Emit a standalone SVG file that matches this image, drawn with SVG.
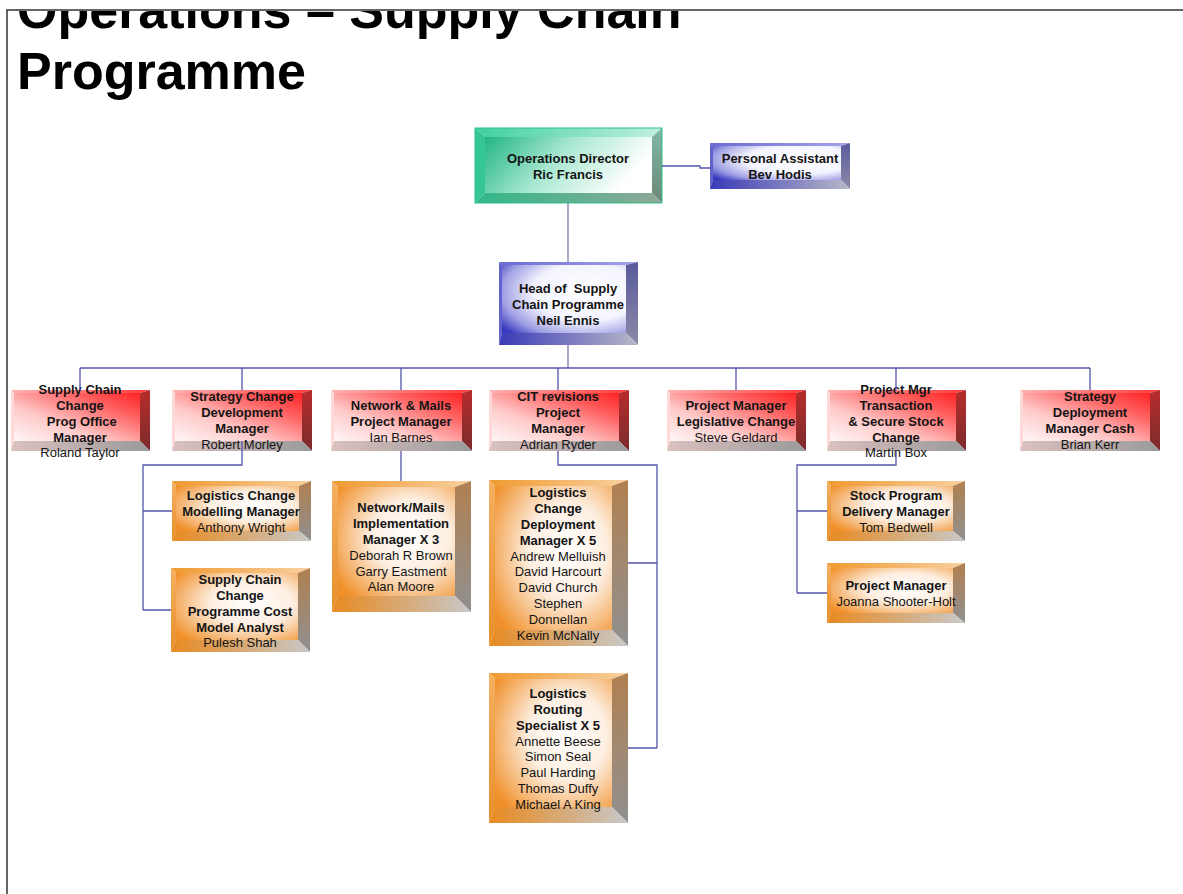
<svg xmlns="http://www.w3.org/2000/svg" width="1183" height="894" viewBox="0 0 1183 894">
<defs>
<style>
text{font-family:"Liberation Sans",Arial,sans-serif;font-size:13px;fill:#141414;text-anchor:middle}
.b{font-weight:bold}
.title{font-size:52px;font-weight:bold;fill:#000;text-anchor:start}
.conn{fill:none;stroke:#5555ac;stroke-width:1.3}
.rT{fill:url(#redTop)}.rL{fill:#ffd8d8}.rR{fill:url(#redRight)}.rB{fill:url(#redBottom)}.rF{fill:url(#redFace)}
.oT{fill:url(#orTop)}.oL{fill:url(#orLeft)}.oR{fill:url(#orRight)}.oB{fill:url(#orBottom)}.oF{fill:url(#orFace)}
.bT{fill:url(#blTop)}.bL{fill:#6262cc}.bR{fill:url(#blRight)}.bB{fill:url(#blBottom)}.bF{fill:url(#blFace)}
.gT{fill:url(#grTop)}.gL{fill:#34c696}.gR{fill:url(#grRight)}.gB{fill:url(#grBottom)}.gF{fill:url(#grFace)}
</style>
<clipPath id="pageClip"><rect x="8" y="11" width="1175" height="883"/></clipPath>
<linearGradient id="redFace" x1="0" y1="1" x2="1" y2="0"><stop offset="0" stop-color="#fff6f6"/><stop offset="0.35" stop-color="#ffcaca"/><stop offset="0.75" stop-color="#ff5c5c"/><stop offset="1" stop-color="#ff2424"/></linearGradient>
<linearGradient id="redTop" x1="0" y1="0" x2="1" y2="0"><stop offset="0" stop-color="#ffb4b4"/><stop offset="1" stop-color="#ff3a3a"/></linearGradient>
<linearGradient id="redRight" x1="0" y1="0" x2="0" y2="1"><stop offset="0" stop-color="#b82c2c"/><stop offset="1" stop-color="#7a2c2c"/></linearGradient>
<linearGradient id="redBottom" x1="0" y1="0" x2="1" y2="0"><stop offset="0" stop-color="#dcc0c0"/><stop offset="1" stop-color="#9a9a9a"/></linearGradient>
<radialGradient id="orFace" cx="0.62" cy="0.45" r="0.75"><stop offset="0" stop-color="#ffffff"/><stop offset="0.45" stop-color="#fdeee0"/><stop offset="1" stop-color="#f0902a"/></radialGradient>
<linearGradient id="orTop" x1="0" y1="0" x2="1" y2="0"><stop offset="0" stop-color="#f09a30"/><stop offset="1" stop-color="#f8d0a0"/></linearGradient>
<linearGradient id="orLeft" x1="0" y1="0" x2="0" y2="1"><stop offset="0" stop-color="#f5b060"/><stop offset="1" stop-color="#e88e2c"/></linearGradient>
<linearGradient id="orRight" x1="0" y1="0" x2="0" y2="1"><stop offset="0" stop-color="#b08050"/><stop offset="1" stop-color="#909090"/></linearGradient>
<linearGradient id="orBottom" x1="0" y1="0" x2="1" y2="0"><stop offset="0" stop-color="#e88a20"/><stop offset="1" stop-color="#c8c8c8"/></linearGradient>
<radialGradient id="blFace" cx="0.68" cy="0.4" r="0.85"><stop offset="0" stop-color="#ffffff"/><stop offset="0.5" stop-color="#f4f4ff"/><stop offset="0.8" stop-color="#a0a0e4"/><stop offset="1" stop-color="#3a3ac0"/></radialGradient>
<linearGradient id="blTop" x1="0" y1="0" x2="1" y2="0"><stop offset="0" stop-color="#6a6ad4"/><stop offset="1" stop-color="#a4a4e8"/></linearGradient>
<linearGradient id="blRight" x1="0" y1="0" x2="0" y2="1"><stop offset="0" stop-color="#5a5a9c"/><stop offset="1" stop-color="#8a8aa8"/></linearGradient>
<linearGradient id="blBottom" x1="0" y1="0" x2="1" y2="0"><stop offset="0" stop-color="#3a3ab8"/><stop offset="1" stop-color="#b8b8c8"/></linearGradient>
<linearGradient id="grFace" x1="0" y1="0" x2="1" y2="0.3"><stop offset="0" stop-color="#22b585"/><stop offset="0.5" stop-color="#a8e8d0"/><stop offset="1" stop-color="#ffffff"/></linearGradient>
<linearGradient id="grTop" x1="0" y1="0" x2="1" y2="0"><stop offset="0" stop-color="#40d0a0"/><stop offset="1" stop-color="#c0f0e0"/></linearGradient>
<linearGradient id="grRight" x1="0" y1="0" x2="0" y2="1"><stop offset="0" stop-color="#80b8a4"/><stop offset="1" stop-color="#6c8878"/></linearGradient>
<linearGradient id="grBottom" x1="0" y1="0" x2="1" y2="0"><stop offset="0" stop-color="#30b888"/><stop offset="1" stop-color="#90a898"/></linearGradient>
</defs>
<rect width="1183" height="894" fill="#ffffff"/>

<g id="title" clip-path="url(#pageClip)">
<text class="title" x="17" y="28">Operations – Supply Chain</text>
<text class="title" x="17" y="89">Programme</text>
</g>
<g id="page-border" fill="none" stroke="#333" stroke-width="1.5">
<path d="M7,894 V10 H1183"/>
</g>

<g id="n-ops">
<polygon class="gT" points="475,128 662,128 652,137 485,137"/>
<polygon class="gL" points="475,128 485,137 485,193 475,203"/>
<polygon class="gR" points="662,128 662,203 652,193 652,137"/>
<polygon class="gB" points="475,203 485,193 652,193 662,203"/>
<rect class="gF" x="485" y="137" width="167" height="56"/>
<rect x="475" y="128" width="187" height="75" fill="none" stroke="#2cbf8c" stroke-width="1"/>
<text class="b"><tspan x="568" y="163">Operations Director</tspan><tspan x="568" y="179">Ric Francis</tspan></text>
</g>

<g id="n-pa">
<polygon class="bT" points="710,143 850,143 841,146 713,146"/>
<polygon class="bL" points="710,143 713,146 713,180 710,189"/>
<polygon class="bR" points="850,143 850,189 841,180 841,146"/>
<polygon class="bB" points="710,189 713,180 841,180 850,189"/>
<rect class="bF" x="713" y="146" width="128" height="34"/>
<text class="b"><tspan x="780" y="163">Personal Assistant</tspan><tspan x="780" y="179">Bev Hodis</tspan></text>
</g>

<g id="n-head">
<polygon class="bT" points="499,262 638,262 626,265 502,265"/>
<polygon class="bL" points="499,262 502,265 502,333 499,345"/>
<polygon class="bR" points="638,262 638,345 626,333 626,265"/>
<polygon class="bB" points="499,345 502,333 626,333 638,345"/>
<rect class="bF" x="502" y="265" width="124" height="68"/>
<text class="b" xml:space="preserve"><tspan x="568" y="293">Head of  Supply</tspan><tspan x="568" y="309">Chain Programme</tspan><tspan x="568" y="325">Neil Ennis</tspan></text>
</g>

<g id="n-prog-office">
<polygon class="rT" points="11,390 150,390 140,393 14,393"/>
<polygon class="rL" points="11,390 14,393 14,441 11,451"/>
<polygon class="rR" points="150,390 150,451 140,441 140,393"/>
<polygon class="rB" points="11,451 14,441 140,441 150,451"/>
<rect class="rF" x="14" y="393" width="126" height="48"/>
<text><tspan class="b" x="80" y="394">Supply Chain</tspan><tspan class="b" x="80" y="410">Change</tspan><tspan class="b" x="80" y="426"> Prog Office</tspan><tspan class="b" x="80" y="442">Manager</tspan><tspan x="80" y="457">Roland Taylor</tspan></text>
</g>

<g id="n-strategy-change">
<polygon class="rT" points="172,390 312,390 302,393 175,393"/>
<polygon class="rL" points="172,390 175,393 175,441 172,451"/>
<polygon class="rR" points="312,390 312,451 302,441 302,393"/>
<polygon class="rB" points="172,451 175,441 302,441 312,451"/>
<rect class="rF" x="175" y="393" width="127" height="48"/>
<text><tspan class="b" x="242" y="401">Strategy Change</tspan><tspan class="b" x="242" y="417">Development</tspan><tspan class="b" x="242" y="433">Manager</tspan><tspan x="242" y="449">Robert Morley</tspan></text>
</g>

<g id="n-network-mails">
<polygon class="rT" points="331,390 472,390 462,393 334,393"/>
<polygon class="rL" points="331,390 334,393 334,441 331,451"/>
<polygon class="rR" points="472,390 472,451 462,441 462,393"/>
<polygon class="rB" points="331,451 334,441 462,441 472,451"/>
<rect class="rF" x="334" y="393" width="128" height="48"/>
<text><tspan class="b" x="401" y="410">Network &amp; Mails</tspan><tspan class="b" x="401" y="426">Project Manager</tspan><tspan x="401" y="442">Ian Barnes</tspan></text>
</g>

<g id="n-cit">
<polygon class="rT" points="489,390 629,390 619,393 492,393"/>
<polygon class="rL" points="489,390 492,393 492,441 489,451"/>
<polygon class="rR" points="629,390 629,451 619,441 619,393"/>
<polygon class="rB" points="489,451 492,441 619,441 629,451"/>
<rect class="rF" x="492" y="393" width="127" height="48"/>
<text><tspan class="b" x="558" y="401">CIT revisions</tspan><tspan class="b" x="558" y="417">Project</tspan><tspan class="b" x="558" y="433">Manager</tspan><tspan x="558" y="449">Adrian Ryder</tspan></text>
</g>

<g id="n-legislative">
<polygon class="rT" points="667,390 806,390 796,393 670,393"/>
<polygon class="rL" points="667,390 670,393 670,441 667,451"/>
<polygon class="rR" points="806,390 806,451 796,441 796,393"/>
<polygon class="rB" points="667,451 670,441 796,441 806,451"/>
<rect class="rF" x="670" y="393" width="126" height="48"/>
<text><tspan class="b" x="736" y="410">Project Manager</tspan><tspan class="b" x="736" y="426">Legislative Change</tspan><tspan x="736" y="442">Steve Geldard</tspan></text>
</g>

<g id="n-transaction">
<polygon class="rT" points="827,390 966,390 956,393 830,393"/>
<polygon class="rL" points="827,390 830,393 830,441 827,451"/>
<polygon class="rR" points="966,390 966,451 956,441 956,393"/>
<polygon class="rB" points="827,451 830,441 956,441 966,451"/>
<rect class="rF" x="830" y="393" width="126" height="48"/>
<text><tspan class="b" x="896" y="394">Project Mgr</tspan><tspan class="b" x="896" y="410">Transaction</tspan><tspan class="b" x="896" y="426">&amp; Secure Stock</tspan><tspan class="b" x="896" y="442">Change</tspan><tspan x="896" y="457">Martin Box</tspan></text>
</g>

<g id="n-strategy-deployment">
<polygon class="rT" points="1020,390 1160,390 1150,393 1023,393"/>
<polygon class="rL" points="1020,390 1023,393 1023,441 1020,451"/>
<polygon class="rR" points="1160,390 1160,451 1150,441 1150,393"/>
<polygon class="rB" points="1020,451 1023,441 1150,441 1160,451"/>
<rect class="rF" x="1023" y="393" width="127" height="48"/>
<text><tspan class="b" x="1090" y="401">Strategy</tspan><tspan class="b" x="1090" y="417">Deployment</tspan><tspan class="b" x="1090" y="433">Manager Cash</tspan><tspan x="1090" y="449">Brian Kerr</tspan></text>
</g>

<g id="n-modelling">
<polygon class="oT" points="172,481 311,481 299,486 176,486"/>
<polygon class="oL" points="172,481 176,486 176,531 172,541"/>
<polygon class="oR" points="311,481 311,541 299,531 299,486"/>
<polygon class="oB" points="172,541 176,531 299,531 311,541"/>
<rect class="oF" x="176" y="486" width="123" height="45"/>
<text><tspan class="b" x="241" y="500">Logistics Change</tspan><tspan class="b" x="241" y="516">Modelling Manager</tspan><tspan x="241" y="532">Anthony Wright</tspan></text>
</g>

<g id="n-cost-analyst">
<polygon class="oT" points="171,568 310,568 298,573 176,573"/>
<polygon class="oL" points="171,568 176,573 176,640 171,652"/>
<polygon class="oR" points="310,568 310,652 298,640 298,573"/>
<polygon class="oB" points="171,652 176,640 298,640 310,652"/>
<rect class="oF" x="176" y="573" width="122" height="67"/>
<text><tspan class="b" x="240" y="584">Supply Chain</tspan><tspan class="b" x="240" y="600">Change</tspan><tspan class="b" x="240" y="616">Programme Cost</tspan><tspan class="b" x="240" y="632">Model Analyst</tspan><tspan x="240" y="647">Pulesh Shah</tspan></text>
</g>

<g id="n-network-impl">
<polygon class="oT" points="332,481 471,481 455,487 338,487"/>
<polygon class="oL" points="332,481 338,487 338,596 332,612"/>
<polygon class="oR" points="471,481 471,612 455,596 455,487"/>
<polygon class="oB" points="332,612 338,596 455,596 471,612"/>
<rect class="oF" x="338" y="487" width="117" height="109"/>
<text><tspan class="b" x="401" y="512">Network/Mails</tspan><tspan class="b" x="401" y="528">Implementation</tspan><tspan class="b" x="401" y="544">Manager X 3</tspan><tspan x="401" y="560">Deborah R Brown</tspan><tspan x="401" y="576">Garry Eastment</tspan><tspan x="401" y="591">Alan Moore</tspan></text>
</g>

<g id="n-deployment">
<polygon class="oT" points="489,480 628,480 612,486 495,486"/>
<polygon class="oL" points="489,480 495,486 495,630 489,646"/>
<polygon class="oR" points="628,480 628,646 612,630 612,486"/>
<polygon class="oB" points="489,646 495,630 612,630 628,646"/>
<rect class="oF" x="495" y="486" width="117" height="144"/>
<text><tspan class="b" x="558" y="497">Logistics</tspan><tspan class="b" x="558" y="513">Change</tspan><tspan class="b" x="558" y="529">Deployment</tspan><tspan class="b" x="558" y="545">Manager X 5</tspan><tspan x="558" y="561">Andrew Melluish</tspan><tspan x="558" y="576">David Harcourt</tspan><tspan x="558" y="592">David Church</tspan><tspan x="558" y="608">Stephen</tspan><tspan x="558" y="624">Donnellan</tspan><tspan x="558" y="640">Kevin McNally</tspan></text>
</g>

<g id="n-routing">
<polygon class="oT" points="489,673 628,673 612,679 495,679"/>
<polygon class="oL" points="489,673 495,679 495,807 489,823"/>
<polygon class="oR" points="628,673 628,823 612,807 612,679"/>
<polygon class="oB" points="489,823 495,807 612,807 628,823"/>
<rect class="oF" x="495" y="679" width="117" height="128"/>
<text><tspan class="b" x="558" y="698">Logistics</tspan><tspan class="b" x="558" y="714">Routing</tspan><tspan class="b" x="558" y="730">Specialist X 5</tspan><tspan x="558" y="746">Annette Beese</tspan><tspan x="558" y="761">Simon Seal</tspan><tspan x="558" y="777">Paul Harding</tspan><tspan x="558" y="793">Thomas Duffy</tspan><tspan x="558" y="809">Michael A King</tspan></text>
</g>

<g id="n-stock">
<polygon class="oT" points="827,481 965,481 953,486 831,486"/>
<polygon class="oL" points="827,481 831,486 831,531 827,541"/>
<polygon class="oR" points="965,481 965,541 953,531 953,486"/>
<polygon class="oB" points="827,541 831,531 953,531 965,541"/>
<rect class="oF" x="831" y="486" width="122" height="45"/>
<text><tspan class="b" x="896" y="500">Stock Program</tspan><tspan class="b" x="896" y="516">Delivery Manager</tspan><tspan x="896" y="532">Tom Bedwell</tspan></text>
</g>

<g id="n-joanna">
<polygon class="oT" points="827,563 965,563 953,568 831,568"/>
<polygon class="oL" points="827,563 831,568 831,613 827,623"/>
<polygon class="oR" points="965,563 965,623 953,613 953,568"/>
<polygon class="oB" points="827,623 831,613 953,613 965,623"/>
<rect class="oF" x="831" y="568" width="122" height="45"/>
<text><tspan class="b" x="896" y="590">Project Manager</tspan><tspan x="896" y="606">Joanna Shooter-Holt</tspan></text>
</g>

<g id="connectors">
<path class="conn" d="M662,166 H700 V168 H711"/>
<path class="conn" style="stroke:#7c7caa" d="M568,203 V262"/>
<path class="conn" style="stroke:#7c7caa" d="M568,345 V368"/>
<path class="conn" d="M80,368 H1090"/>
<path class="conn" d="M80,368 V390 M242,368 V390 M401,368 V390 M558,368 V390 M736,368 V390 M896,368 V390 M1090,368 V390"/>
<path class="conn" d="M242,441 V465 H143 V610 M143,511 H172 M143,610 H171"/>
<path class="conn" d="M401,451 V481"/>
<path class="conn" d="M558,451 V465 H657 V748 M628,563 H657 M628,748 H657"/>
<path class="conn" d="M896,451 V465 H797 V593 M797,511 H827 M797,593 H827"/>
</g>
</svg>
